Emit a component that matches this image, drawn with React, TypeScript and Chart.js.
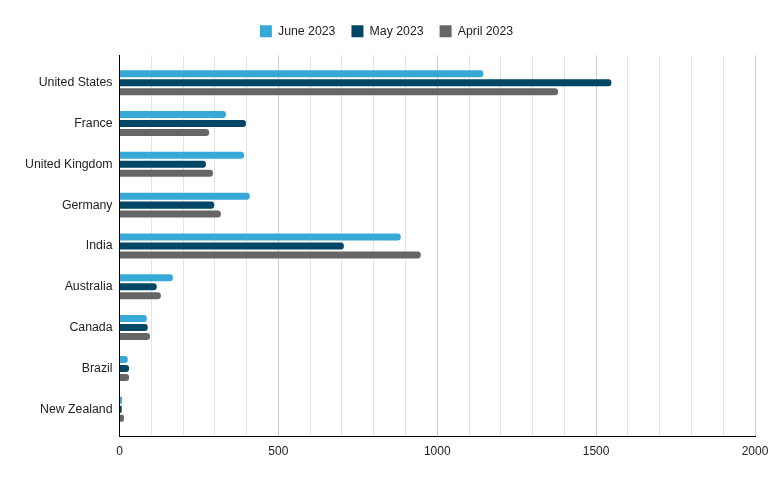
import React, { useEffect, useRef } from "react";
import { Chart, registerables } from "chart.js";

Chart.register(...registerables);

const categories = [
  "United States",
  "France",
  "United Kingdom",
  "Germany",
  "India",
  "Australia",
  "Canada",
  "Brazil",
  "New Zealand",
];
const june2023 = [1145, 335, 392, 410, 885, 168, 86, 26, 8];
const may2023 = [1548, 398, 272, 298, 706, 117, 89, 30, 7];
const april2023 = [1380, 282, 294, 319, 948, 130, 96, 30, 14];
const xTickLabels = ["0", "500", "1000", "1500", "2000"];

const FONT = "'Liberation Sans', Arial, sans-serif";

const legendSpacing = {
  id: "legendSpacing",
  beforeInit(chart: any) {
    const orig = chart.legend.fit;
    chart.legend.fit = function () {
      orig.bind(chart.legend)();
      this.height += 8;
    };
  },
};

export default function App() {
  const ref = useRef<HTMLCanvasElement | null>(null);
  useEffect(() => {
    document.body.style.margin = "0";
    const ctx = ref.current!;
    const toPts = (arr: number[]) => arr.map((v, i) => ({ x: v, y: i }));
    const chart = new Chart(ctx, {
      type: "bar",
      plugins: [legendSpacing],
      data: {
        datasets: [
          { label: "June 2023", data: toPts(june2023), backgroundColor: "#36a9d6" },
          { label: "May 2023", data: toPts(may2023), backgroundColor: "#004765" },
          { label: "April 2023", data: toPts(april2023), backgroundColor: "#666666" },
        ] as any,
      },
      options: {
        indexAxis: "y",
        animation: false,
        responsive: false,
        datasets: {
          bar: {
            categoryPercentage: 0.66,
            barPercentage: 0.78,
            borderRadius: 3,
            borderSkipped: "start",
          },
        },
        layout: { padding: { left: 18, right: 25, top: 9, bottom: 15 } },
        plugins: {
          legend: {
            position: "top",
            labels: {
              boxWidth: 12,
              boxHeight: 12,
              padding: 16,
              color: "#222",
              font: { family: FONT, size: 12.3 },
            },
          },
          tooltip: { enabled: false },
        },
        scales: {
          x: {
            type: "linear",
            min: 0,
            max: 2000,
            ticks: {
              stepSize: 100,
              autoSkip: false,
              maxRotation: 0,
              padding: 8,
              color: "#222",
              font: { family: FONT, size: 12 },
              callback: (v: any) => {
                const s = String(v);
                return xTickLabels.includes(s) ? s : "";
              },
            },
            grid: {
              drawTicks: false,
              color: (c: any) =>
                c.tick && c.tick.value % 500 === 0 ? "#cccccc" : "#e4e4e4",
            },
            border: { display: true, color: "#000000", width: 1 },
          },
          y: {
            type: "linear",
            reverse: true,
            offset: false,
            min: -0.67,
            max: 8.67,
            afterBuildTicks: (scale: any) => {
              scale.ticks = categories.map((_, i) => ({ value: i }));
            },
            ticks: {
              autoSkip: false,
              padding: 7,
              color: "#222",
              font: { family: FONT, size: 12.3 },
              callback: (v: any) => categories[v as number] ?? "",
            },
            grid: { display: false, drawTicks: false, offset: false },
            border: { display: true, color: "#000000", width: 1 },
          },
        },
      } as any,
    });
    return () => chart.destroy();
  }, []);
  return (
    <div style={{ width: 780, height: 482 }}>
      <canvas ref={ref} width={780} height={482} />
    </div>
  );
}
